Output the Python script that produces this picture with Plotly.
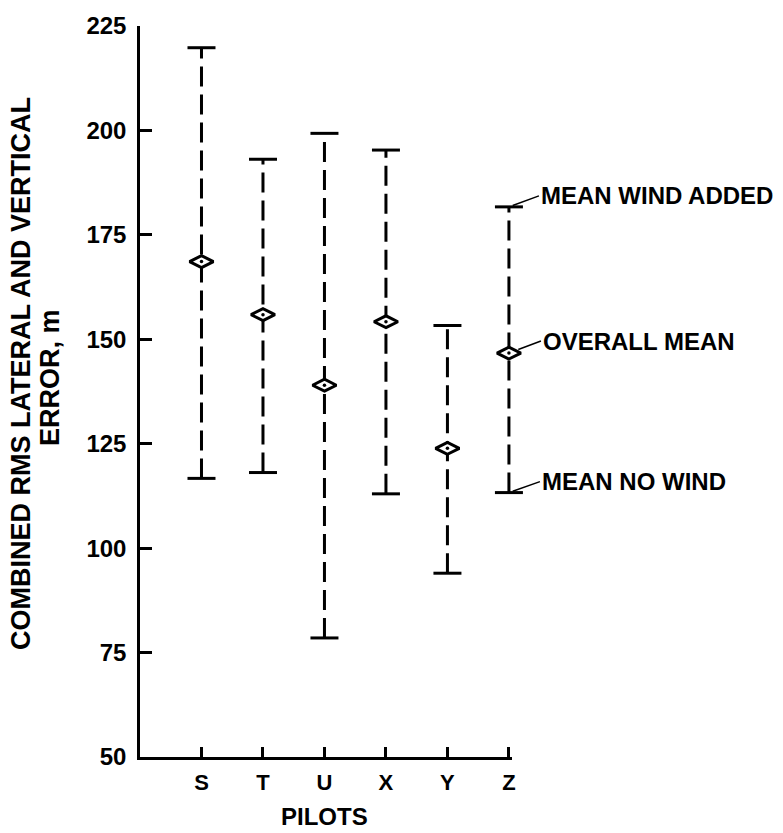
import plotly.graph_objects as go

# Pilots along the x axis and their combined RMS error ranges (m)
pilots = ["S", "T", "U", "X", "Y", "Z"]
pilot_pos = [1, 2, 3, 4, 5, 6]
error_mean = [168.6, 155.9, 139.0, 154.2, 123.9, 146.7]   # overall mean
error_high = [219.8, 193.1, 199.3, 195.3, 153.3, 181.7]   # mean, wind added
error_low = [116.7, 118.1, 78.5, 113.0, 94.0, 113.3]      # mean, no wind
y_ticks = [50, 75, 100, 125, 150, 175, 200, 225]

key_labels = ["MEAN WIND ADDED", "OVERALL MEAN", "MEAN NO WIND"]
y_title_lines = ["COMBINED RMS LATERAL AND VERTICAL", "ERROR, m"]

FONT = "Liberation Sans, Arial, Helvetica, sans-serif"
INK = "black"

fig = go.Figure()

# Dashed range line for each pilot
for xp, lo, hi in zip(pilot_pos, error_low, error_high):
    fig.add_trace(go.Scatter(
        x=[xp, xp], y=[lo, hi], mode="lines",
        line=dict(color=INK, width=3, dash="20px,8px"),
        hoverinfo="skip", showlegend=False, cliponaxis=False,
    ))

# End caps
fig.add_trace(go.Scatter(
    x=pilot_pos + pilot_pos, y=error_low + error_high, mode="markers",
    marker=dict(symbol="line-ew", size=20, line=dict(color=INK, width=3)),
    hoverinfo="skip", showlegend=False, cliponaxis=False,
))

# Mean markers: open diamond with a centre dot
fig.add_trace(go.Scatter(
    x=pilot_pos, y=error_mean, mode="markers",
    marker=dict(symbol="diamond-wide", size=17, color="white",
                line=dict(color=INK, width=3)),
    hoverinfo="skip", showlegend=False, cliponaxis=False,
))
fig.add_trace(go.Scatter(
    x=pilot_pos, y=error_mean, mode="markers",
    marker=dict(symbol="circle", size=3.5, color=INK),
    hoverinfo="skip", showlegend=False, cliponaxis=False,
))

fig.update_layout(
    width=783, height=833,
    margin=dict(l=140, r=271, t=22, b=76),
    plot_bgcolor="white", paper_bgcolor="white",
    showlegend=False,
    font=dict(family=FONT, color=INK, size=23, weight="bold"),
)

fig.update_xaxes(
    range=[0, 6.05], tickmode="array", tickvals=pilot_pos, ticktext=pilots,
    ticks="inside", ticklen=10, tickwidth=2.5, tickcolor=INK,
    showline=True, linecolor=INK, linewidth=2.5,
    showgrid=False, zeroline=False, ticklabelstandoff=4,
    tickfont=dict(family=FONT, size=22, color=INK, weight="bold"),
)
fig.update_yaxes(
    range=[50, 225], tickmode="array", tickvals=y_ticks,
    ticks="inside", ticklen=12, tickwidth=2.5, tickcolor=INK,
    showline=True, linecolor=INK, linewidth=2.5,
    showgrid=False, zeroline=False, ticklabelstandoff=6,
    tickfont=dict(family=FONT, size=24, color=INK, weight="bold"),
)

annotations = [
    # x axis title
    dict(text="PILOTS", xref="paper", yref="paper", x=0.495, y=-0.082,
         xanchor="center", yanchor="middle", showarrow=False,
         font=dict(family=FONT, size=24, color=INK, weight="bold")),
]

# y axis title, one annotation per line
for line_text, px_x, px_y in zip(y_title_lines, [21, 50], [372, 376]):
    annotations.append(dict(
        text=line_text, xref="paper", yref="paper",
        x=(px_x - 140) / 372, y=(757 - px_y) / 735, textangle=-90,
        xanchor="center", yanchor="middle", showarrow=False,
        font=dict(family=FONT, size=27, color=INK, weight="bold"),
    ))

# Key labels attached to the Z range
key_vals = [error_high[-1], error_mean[-1], error_low[-1]]
key_offsets = [(30, -11, 4), (32, -12, 10), (31, -11, 4)]
for label, val, (ax, ay, stand) in zip(key_labels, key_vals, key_offsets):
    annotations.append(dict(
        text=label, x=pilot_pos[-1], y=val, xref="x", yref="y",
        showarrow=True, arrowhead=0, arrowwidth=1.5, arrowcolor=INK,
        ax=ax, ay=ay, xanchor="left", yanchor="middle", standoff=stand,
        font=dict(family=FONT, size=24, color=INK, weight="bold"),
    ))

fig.update_layout(annotations=annotations)

fig.write_html("out.html")
